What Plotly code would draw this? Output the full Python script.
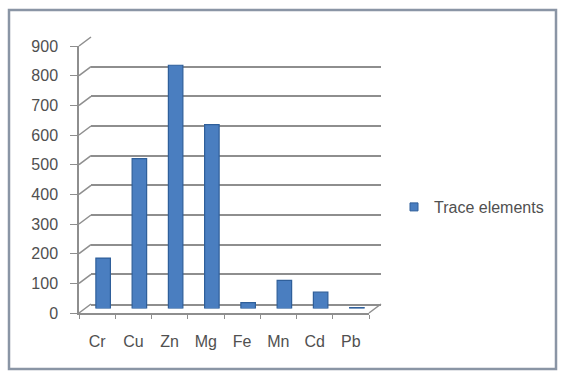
import plotly.graph_objects as go

# ---- data ----
elements = ["Cr", "Cu", "Zn", "Mg", "Fe", "Mn", "Cd", "Pb"]
trace_values = [170, 505, 820, 620, 20, 95, 55, 3]
y_ticks = [0, 100, 200, 300, 400, 500, 600, 700, 800, 900]
series_name = "Trace elements"

# ---- layout geometry (pixels) ----
W, H = 562, 374
L, R, T, B = 79, 181, 37, 61          # margins -> paper area 79..381 x 37..313
PW, PH = W - L - R, H - T - B          # 302 x 276
DX, DY = 12, 9                          # depth offset of back wall
FW, FH = PW - DX, PH - DY               # front plot size

front_x = [0, FW / PW]
front_y = [0, FH / PH]
back_x = [DX / PW, 1]
back_y = [DY / PH, 1]
mid_x = [DX / 2 / PW, (FW + DX / 2) / PW]
mid_y = [DY / 2 / PH, (FH + DY / 2) / PH]

grid_col = "#8e8e8e"
txt_col = "#505050"
bar_col = "#4a7ec0"
font_fam = "Liberation Sans, Arial, sans-serif"
fs = 16

fig = go.Figure()
# back wall subplot first (drawn underneath)
fig.add_trace(go.Scatter(x=elements, y=trace_values, xaxis="x2", yaxis="y2",
                         mode="markers", marker=dict(opacity=0),
                         showlegend=False, hoverinfo="skip"))
fig.add_trace(go.Scatter(x=elements, y=trace_values, xaxis="x", yaxis="y",
                         mode="markers", marker=dict(opacity=0),
                         showlegend=False, hoverinfo="skip"))
fig.add_trace(go.Bar(
    x=elements, y=trace_values, name=series_name,
    xaxis="x3", yaxis="y3", width=0.4, showlegend=False,
    marker=dict(color=bar_col, line=dict(color="#2f5f9a", width=1.2)),
))
# legend entry with a small square key
fig.add_trace(go.Scatter(x=[None], y=[None], xaxis="x3", yaxis="y3", name=series_name,
                         mode="markers",
                         marker=dict(symbol="square", size=8, color=bar_col,
                                     line=dict(color="#2f5f9a", width=1))))

ymax = y_ticks[-1]
cat_range = [-0.5, len(elements) - 0.5]
fig.update_layout(
    width=W, height=H,
    margin=dict(l=L, r=R, t=T, b=B),
    paper_bgcolor="white", plot_bgcolor="rgba(0,0,0,0)",
    font=dict(family=font_fam, size=fs, color=txt_col),
    showlegend=True,
    xaxis=dict(domain=front_x, anchor="y", type="category", categoryarray=elements,
               range=cat_range, showgrid=False, showline=True,
               linecolor=grid_col, linewidth=1.5, ticks="outside", tickson="boundaries",
               ticklen=4, tickcolor=grid_col, tickwidth=1, ticklabelstandoff=13,
               tickfont=dict(size=fs, color=txt_col), zeroline=False, fixedrange=True),
    yaxis=dict(domain=front_y, anchor="x", range=[0, ymax], tickvals=y_ticks,
               showgrid=False, showline=True, linecolor=grid_col, linewidth=1.5,
               ticks="outside", ticklen=7, tickcolor=grid_col, ticklabelstandoff=9,
               tickfont=dict(size=fs, color=txt_col), zeroline=False, fixedrange=True),
    xaxis2=dict(domain=back_x, anchor="y2", type="category",
                categoryarray=elements, range=cat_range,
                showgrid=False, showline=True, linecolor=grid_col, linewidth=1.5,
                showticklabels=False, ticks="", zeroline=False, fixedrange=True),
    yaxis2=dict(domain=back_y, anchor="x2", range=[0, ymax],
                tickvals=y_ticks, showgrid=True, gridcolor=grid_col, gridwidth=1.5,
                showline=False, showticklabels=False, ticks="", zeroline=False,
                fixedrange=True),
    xaxis3=dict(domain=mid_x, anchor="y3", type="category",
                categoryarray=elements, range=cat_range, visible=False, fixedrange=True),
    yaxis3=dict(domain=mid_y, anchor="x3", range=[0, ymax], visible=False,
                fixedrange=True),
    legend=dict(x=(394 - L) / PW, y=(H - B - 207) / PH, xanchor="left", yanchor="middle",
                font=dict(size=fs, color=txt_col), bgcolor="rgba(0,0,0,0)",
                itemwidth=30),
)

shapes = []
for v in y_ticks:
    yf = front_y[0] + (front_y[1] - front_y[0]) * v / ymax
    yb = back_y[0] + (back_y[1] - back_y[0]) * v / ymax
    shapes.append(dict(type="line", xref="paper", yref="paper",
                       x0=front_x[0], y0=yf, x1=back_x[0], y1=yb,
                       line=dict(color=grid_col, width=1.5)))
shapes.append(dict(type="line", xref="paper", yref="paper",
                   x0=front_x[1], y0=front_y[0], x1=back_x[1], y1=back_y[0],
                   line=dict(color=grid_col, width=1.5)))
shapes.append(dict(type="rect", xref="paper", yref="paper",
                   x0=(9 - L) / PW, x1=(556 - L) / PW,
                   y0=(H - B - 369) / PH, y1=(H - B - 10) / PH,
                   line=dict(color="#8a95a5", width=2.5), fillcolor="rgba(0,0,0,0)"))
fig.update_layout(shapes=shapes)

fig.write_html("out.html")
